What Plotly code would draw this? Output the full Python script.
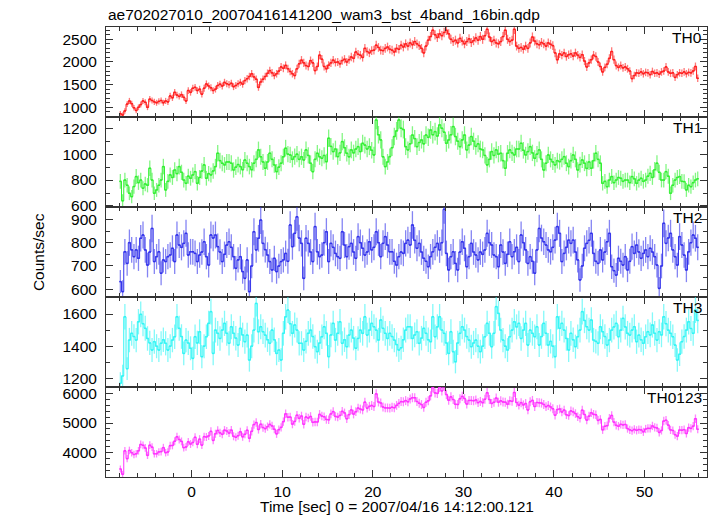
import numpy as np
import plotly.graph_objects as go

# ---- data (counts/sec, 0.25 s bins starting at t = -8 s) ----
T_START = -8.0
BIN = 0.25

th0 = [
    860, 830, 920, 1070, 1140, 1080, 990, 930, 1000, 1060, 1140, 1110, 1000, 1180, 1150, 1120,
    1100, 1130, 1150, 1100, 1140, 1120, 1250, 1210, 1330, 1270, 1240, 1280, 1220, 1140, 1370, 1330,
    1420, 1440, 1370, 1400, 1290, 1420, 1515, 1470, 1430, 1370, 1400, 1480, 1510, 1470, 1550, 1520,
    1500, 1530, 1455, 1480, 1520, 1550, 1510, 1590, 1630, 1680, 1740, 1670, 1620, 1440, 1560, 1620,
    1680, 1750, 1810, 1760, 1700, 1740, 1800, 1890, 1860, 1925, 1850, 1790, 1740, 1700, 1850, 1960,
    2040, 1980, 1920, 1900, 2030, 1980, 1810, 1900, 2150, 2060, 1900, 1850, 1930, 1980, 2040, 1990,
    2000, 1960, 2030, 2060, 2000, 2050, 2110, 2080, 2220, 2170, 2150, 2100, 2300, 2230, 2200, 2250,
    2260, 2370, 2320, 2260, 2250, 2300, 2330, 2280, 2260, 2220, 2300, 2280, 2370, 2330, 2400, 2350,
    2420, 2380, 2450, 2400, 2360, 2300, 2200, 2350, 2480, 2560, 2700, 2600, 2540, 2620, 2580, 2650,
    2700, 2620, 2500, 2450, 2480, 2420, 2520, 2460, 2400, 2450, 2510, 2430, 2470, 2530, 2480, 2560,
    2500, 2580, 2720, 2550, 2450, 2480, 2420, 2400, 2450, 2560, 2700, 2500, 2450, 2480, 2720, 2350,
    2300, 2320, 2280, 2350, 2300, 2420, 2550, 2460, 2400, 2380, 2430, 2400, 2350, 2420, 2390, 2360,
    2200, 2050, 2180, 2150, 2200, 2120, 2160, 2180, 2130, 2200, 2150, 2100, 2160, 2020, 1890, 1980,
    2050, 2150, 2120, 2000, 1900, 1780, 1880, 1950, 2080, 2230, 2050, 1920, 1880, 1920, 1870, 1890,
    1850, 1800, 1633, 1700, 1760, 1750, 1780, 1740, 1770, 1760, 1720, 1790, 1750, 1760, 1730, 1780,
    1800, 1890, 1780, 1750, 1760, 1660, 1720, 1760, 1750, 1780, 1740, 1770, 1760, 1800, 1900, 1640,
]

th1 = [
    790, 640, 800, 760, 698, 672, 750, 827, 780, 800, 737, 770, 760, 891, 800, 698,
    724, 760, 800, 904, 724, 790, 840, 820, 878, 850, 904, 860, 800, 775, 830, 814,
    840, 865, 775, 820, 870, 917, 814, 850, 840, 870, 904, 1007, 950, 930, 917, 940,
    940, 930, 878, 900, 920, 904, 880, 955, 930, 904, 880, 930, 960, 1033, 980, 940,
    891, 940, 1007, 960, 917, 865, 900, 930, 980, 1046, 1000, 994, 960, 981, 1000, 960,
    980, 955, 1033, 990, 930, 865, 960, 1007, 980, 968, 990, 942, 1123, 1060, 1020, 1040,
    981, 1010, 1097, 1050, 1007, 980, 1033, 1010, 1040, 1058, 1020, 1084, 1070, 1040, 1058, 1030,
    994, 1264, 1150, 1110, 980, 904, 940, 981, 1050, 1136, 1180, 1264, 1200, 1190, 1058, 1033,
    1080, 1148, 1120, 1058, 1090, 1110, 1080, 1148, 1130, 1187, 1150, 1174, 1140, 1226, 1200, 1170,
    1084, 1110, 1150, 1213, 1136, 1100, 1058, 1110, 1148, 1033, 1070, 1136, 1100, 1060, 1080, 1040,
    1033, 990, 917, 960, 1020, 990, 1033, 1000, 1007, 950, 891, 1007, 1033, 1010, 994, 1040,
    1040, 1084, 1030, 994, 1020, 1058, 1010, 968, 1000, 1033, 960, 878, 930, 994, 960, 940,
    917, 950, 942, 960, 981, 930, 904, 950, 994, 960, 878, 920, 955, 930, 890, 940,
    891, 950, 1007, 960, 930, 775, 790, 749, 800, 827, 780, 800, 820, 814, 790, 800,
    800, 780, 827, 810, 775, 800, 814, 790, 800, 830, 852, 820, 880, 930, 860, 800,
    800, 865, 830, 698, 760, 800, 820, 827, 790, 788, 724, 760, 749, 780, 800, 810,
]

th2 = [
    633, 590, 761, 711, 800, 769, 740, 769, 733, 819, 833, 769, 704, 760, 861, 719,
    740, 761, 669, 726, 719, 740, 747, 776, 719, 833, 790, 780, 797, 840, 747, 761,
    761, 754, 719, 747, 760, 804, 740, 704, 833, 820, 833, 783, 760, 719, 750, 790,
    804, 780, 740, 690, 726, 740, 676, 647, 726, 590, 700, 847, 769, 819, 897, 797,
    770, 747, 719, 683, 733, 676, 700, 719, 726, 754, 720, 876, 783, 840, 911, 820,
    797, 647, 819, 797, 760, 719, 869, 761, 740, 747, 800, 847, 719, 797, 780, 754,
    740, 733, 847, 790, 740, 783, 797, 760, 733, 826, 800, 776, 747, 760, 804, 769,
    780, 847, 800, 740, 797, 826, 790, 761, 761, 720, 704, 740, 760, 754, 797, 811,
    790, 876, 810, 776, 797, 760, 733, 720, 697, 740, 761, 780, 797, 769, 800, 943,
    754, 683, 740, 761, 711, 683, 760, 804, 776, 697, 740, 797, 760, 747, 726, 760,
    750, 769, 840, 800, 790, 747, 740, 697, 790, 760, 711, 750, 804, 740, 761, 780,
    719, 833, 800, 769, 711, 740, 720, 669, 769, 861, 820, 804, 790, 769, 761, 780,
    811, 869, 840, 719, 754, 780, 811, 797, 811, 760, 726, 640, 700, 776, 797, 810,
    840, 754, 720, 711, 769, 726, 760, 804, 840, 697, 680, 661, 733, 720, 704, 740,
    683, 720, 783, 754, 790, 760, 733, 754, 769, 740, 776, 760, 740, 704, 604, 700,
    883, 797, 820, 840, 769, 740, 704, 826, 790, 747, 683, 761, 800, 833, 819, 780,
]

th3 = [
    1169, 1215, 1583, 1260, 1438, 1480, 1460, 1438, 1552, 1598, 1540, 1511, 1448, 1420, 1376, 1428,
    1400, 1376, 1418, 1440, 1418, 1376, 1400, 1438, 1459, 1583, 1511, 1460, 1355, 1438, 1420, 1387,
    1324, 1459, 1420, 1490, 1335, 1400, 1459, 1542, 1615, 1355, 1500, 1480, 1448, 1500, 1542, 1480,
    1418, 1521, 1480, 1450, 1407, 1511, 1470, 1428, 1469, 1314, 1400, 1500, 1666, 1490, 1521, 1490,
    1469, 1440, 1418, 1500, 1440, 1355, 1376, 1314, 1480, 1583, 1625, 1540, 1480, 1532, 1500, 1418,
    1418, 1376, 1430, 1480, 1500, 1460, 1397, 1366, 1420, 1459, 1521, 1480, 1335, 1470, 1542, 1438,
    1480, 1552, 1418, 1440, 1397, 1469, 1500, 1450, 1387, 1448, 1500, 1480, 1583, 1469, 1500, 1542,
    1521, 1500, 1438, 1563, 1511, 1480, 1448, 1480, 1460, 1438, 1410, 1376, 1390, 1440, 1500, 1521,
    1521, 1448, 1470, 1490, 1418, 1450, 1511, 1480, 1440, 1428, 1583, 1459, 1520, 1583, 1500, 1480,
    1420, 1355, 1490, 1366, 1303, 1420, 1480, 1521, 1500, 1460, 1438, 1397, 1420, 1438, 1400, 1366,
    1400, 1459, 1542, 1480, 1397, 1480, 1646, 1604, 1500, 1438, 1400, 1376, 1459, 1500, 1552, 1520,
    1542, 1448, 1500, 1542, 1407, 1500, 1480, 1459, 1521, 1407, 1460, 1542, 1480, 1407, 1430, 1400,
    1335, 1583, 1511, 1542, 1500, 1448, 1376, 1480, 1440, 1397, 1459, 1500, 1615, 1560, 1521, 1500,
    1563, 1438, 1430, 1418, 1521, 1490, 1460, 1407, 1438, 1500, 1520, 1542, 1459, 1500, 1573, 1520,
    1480, 1469, 1500, 1521, 1428, 1469, 1440, 1418, 1459, 1490, 1470, 1532, 1480, 1438, 1490, 1470,
    1583, 1540, 1500, 1480, 1459, 1407, 1314, 1350, 1428, 1460, 1500, 1552, 1510, 1480, 1625, 1560,
]

# TH0123 is the sum of the four bands
th0123 = [a + b + c + d for a, b, c, d in zip(th0, th1, th2, th3)]

panel_names = ["TH0", "TH1", "TH2", "TH3", "TH0123"]
panel_values = [th0, th1, th2, th3, th0123]
panel_colors = ["rgb(255,30,30)", "rgb(50,240,50)", "rgb(50,50,235)",
                "rgb(50,245,245)", "rgb(255,50,255)"]
panel_ranges = [[786, 2771], [592, 1287], [567, 953], [1146, 1706], [3182, 6212]]
panel_dtick = [500, 200, 100, 200, 1000]
panel_minor = [100, 100, 50, 100, 200]

X_RANGE = [-9.46, 56.9]
FONT = "Liberation Sans, Arial, Helvetica, sans-serif"
FS = 15.5

fig = go.Figure()
n = len(th0)
t = T_START + BIN * (np.arange(n) + 0.5)

for i in range(5):
    k = i + 1
    v = np.array(panel_values[i], dtype=float)
    err = np.sqrt(v / BIN)
    col = panel_colors[i]
    light = col.replace("rgb(", "rgba(").replace(")", ",0.6)")
    fig.add_trace(go.Scatter(
        x=t, y=v, mode="lines",
        line=dict(shape="hvh", width=1, color=col),
        error_x=dict(type="constant", value=BIN / 2, width=0, thickness=1.5, color=col),
        error_y=dict(type="data", array=err, width=0, thickness=1.3, color=light),
        xaxis="x" if k == 1 else f"x{k}",
        yaxis="y" if k == 1 else f"y{k}",
        showlegend=False, hoverinfo="x+y",
    ))

layout = dict(
    width=717, height=516,
    margin=dict(l=106, r=10, t=27, b=39),
    paper_bgcolor="white", plot_bgcolor="white",
    font=dict(family=FONT, size=FS, color="black"),
    showlegend=False,
)

for i in range(5):
    k = i + 1
    top = round(1 - 0.2 * i, 6)
    bot = max(0.0, round(top - 0.2, 6))
    xname = "xaxis" if k == 1 else f"xaxis{k}"
    yname = "yaxis" if k == 1 else f"yaxis{k}"
    layout[xname] = dict(
        domain=[0, 1], anchor="y" if k == 1 else f"y{k}",
        range=X_RANGE, dtick=10, tick0=0,
        ticks="inside", ticklen=7, tickwidth=1, tickcolor="#333",
        minor=dict(dtick=2, tick0=0, ticks="inside", ticklen=4, tickcolor="#333"),
        mirror="allticks", showline=True, linecolor="#333", linewidth=1,
        showgrid=False, zeroline=False,
        showticklabels=(k == 5), ticklabelstandoff=0,
        tickfont=dict(family=FONT, size=FS, color="black"),
    )
    if k > 1:
        layout[xname]["matches"] = "x"
    layout[yname] = dict(
        domain=[bot, top], anchor="x" if k == 1 else f"x{k}",
        range=panel_ranges[i], dtick=panel_dtick[i], tick0=0, tickformat="d",
        ticks="inside", ticklen=7, tickwidth=1, tickcolor="#333",
        minor=dict(dtick=panel_minor[i], tick0=0, ticks="inside", ticklen=4, tickcolor="#333"),
        mirror="allticks", showline=True, linecolor="#333", linewidth=1,
        showgrid=False, zeroline=False, ticklabelstandoff=5,
        tickfont=dict(family=FONT, size=FS, color="black"),
    )

annotations = [
    dict(text="ae702027010_20070416141200_wam3_bst_4band_16bin.qdp",
         xref="paper", yref="paper", x=0, y=1, xanchor="left", yanchor="bottom",
         yshift=2, showarrow=False, font=dict(family=FONT, size=FS, color="black")),
    dict(text="Counts/sec", xref="paper", yref="paper", x=-0.113, y=0.5,
         xanchor="center", yanchor="middle", textangle=-90, showarrow=False,
         font=dict(family=FONT, size=FS, color="black")),
    dict(text="Time [sec] 0 = 2007/04/16 14:12:00.121", xref="paper", yref="paper",
         x=0.4834, y=-0.066, xanchor="center", yanchor="middle", showarrow=False,
         font=dict(family=FONT, size=FS, color="black")),
]
for i, name in enumerate(panel_names):
    top = 1 - 0.2 * i
    annotations.append(dict(
        text=name, xref="paper", yref="paper", x=0.9942, y=top - 10.5 / 450,
        xanchor="right", yanchor="middle", showarrow=False,
        font=dict(family=FONT, size=FS, color="black")))
layout["annotations"] = annotations

fig.update_layout(**layout)
fig.write_html("out.html", config={"displayModeBar": False},
               post_script="document.body.style.margin='0px';")
